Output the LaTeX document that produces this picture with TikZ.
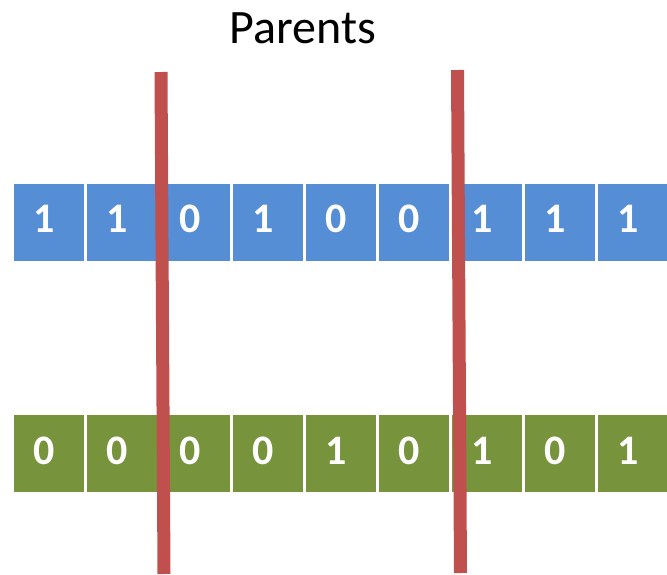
\documentclass[tikz,border=0pt]{standalone}
\usepackage{fontspec}
\setmainfont{Carlito}
\usepackage{tikz}
\usetikzlibrary{positioning}
\definecolor{parentA}{HTML}{558ED5}
\definecolor{parentB}{HTML}{77933C}
\definecolor{cutred}{HTML}{C0504D}
\tikzset{
  bitcell/.style={rectangle,inner sep=0pt,minimum width=70pt,minimum height=77pt,anchor=north west},
  bit/.style={text=white,font=\fontsize{42}{42}\selectfont\bfseries},
  cutline/.style={cutred,line width=13pt},
}

\begin{document}
\begin{tikzpicture}[x=1pt,y=-1pt]
\useasboundingbox (0,0) rectangle (667,574);
\node[anchor=base,font=\fontsize{48}{48}\selectfont] (title) at (303,43) {Parents};
% first parent
\foreach[count=\k from 0] \b in {1,1,0,1,0,0,1,1,1}
{
  \node[bitcell,fill=parentA] (a\k) at (14+73*\k,184) {};
  \node[bit] at ([xshift=-5pt,yshift=4pt]a\k.center) {\b};
}
% second parent
\foreach[count=\k from 0] \b in {0,0,0,0,1,0,1,0,1}
{
  \node[bitcell,fill=parentB] (b\k) at (14+73*\k,415) {};
  \node[bit] at ([xshift=-5pt,yshift=3pt]b\k.center) {\b};
}
% crossover points
\coordinate (cut1top) at (161,72);
\coordinate (cut1bot) at (164,574);
\coordinate (cut2top) at (457.5,70);
\coordinate (cut2bot) at (460.5,573);
\draw[cutline] (cut1top) -- (cut1bot);
\draw[cutline] (cut2top) -- (cut2bot);
\end{tikzpicture}
\end{document}
